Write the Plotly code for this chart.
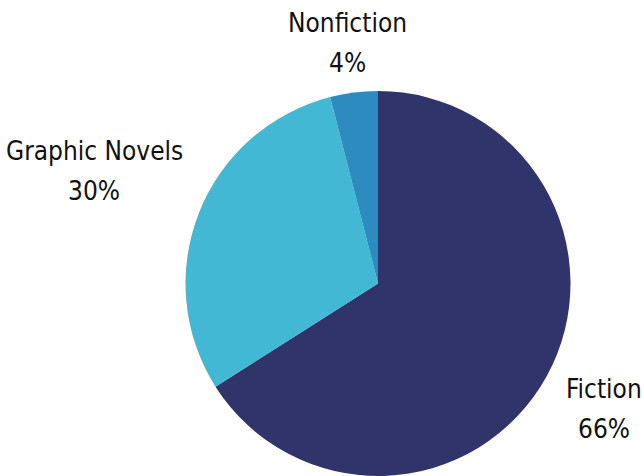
import plotly.graph_objects as go

# Share of books by genre
genres = ["Fiction", "Graphic Novels", "Nonfiction"]
shares = [66, 30, 4]
colors = ["#31346b", "#42b8d5", "#2e8bc0"]

# Label anchor points (pixel centres of the two text lines) for each genre
W, H = 644, 476
label_xy = {"Fiction": (604, 389), "Graphic Novels": (94, 151), "Nonfiction": (347, 23)}
line_gap = 40

fig = go.Figure(
    go.Pie(
        labels=genres,
        values=shares,
        sort=False,
        direction="clockwise",
        rotation=0,
        marker=dict(colors=colors, line=dict(width=0)),
        textinfo="none",
        hoverinfo="label+percent",
        showlegend=False,
        domain=dict(x=[185 / W, 571 / W], y=[0, (H - 91) / H]),
    )
)

total = sum(shares)
font = dict(family="DejaVu Sans Condensed, DejaVu Sans", size=26, color="#111111")
for g, v in zip(genres, shares):
    px, py = label_xy[g]
    for text, dy in ((g, 0), (f"{round(100 * v / total)}%", line_gap)):
        fig.add_annotation(
            x=px / W, y=1 - (py + dy) / H, xref="paper", yref="paper",
            text=text, showarrow=False, xanchor="center", yanchor="middle",
            font=font,
        )

fig.update_layout(
    width=W,
    height=H,
    margin=dict(l=0, r=0, t=0, b=0),
    paper_bgcolor="white",
    plot_bgcolor="white",
)

fig.write_html("out.html")
